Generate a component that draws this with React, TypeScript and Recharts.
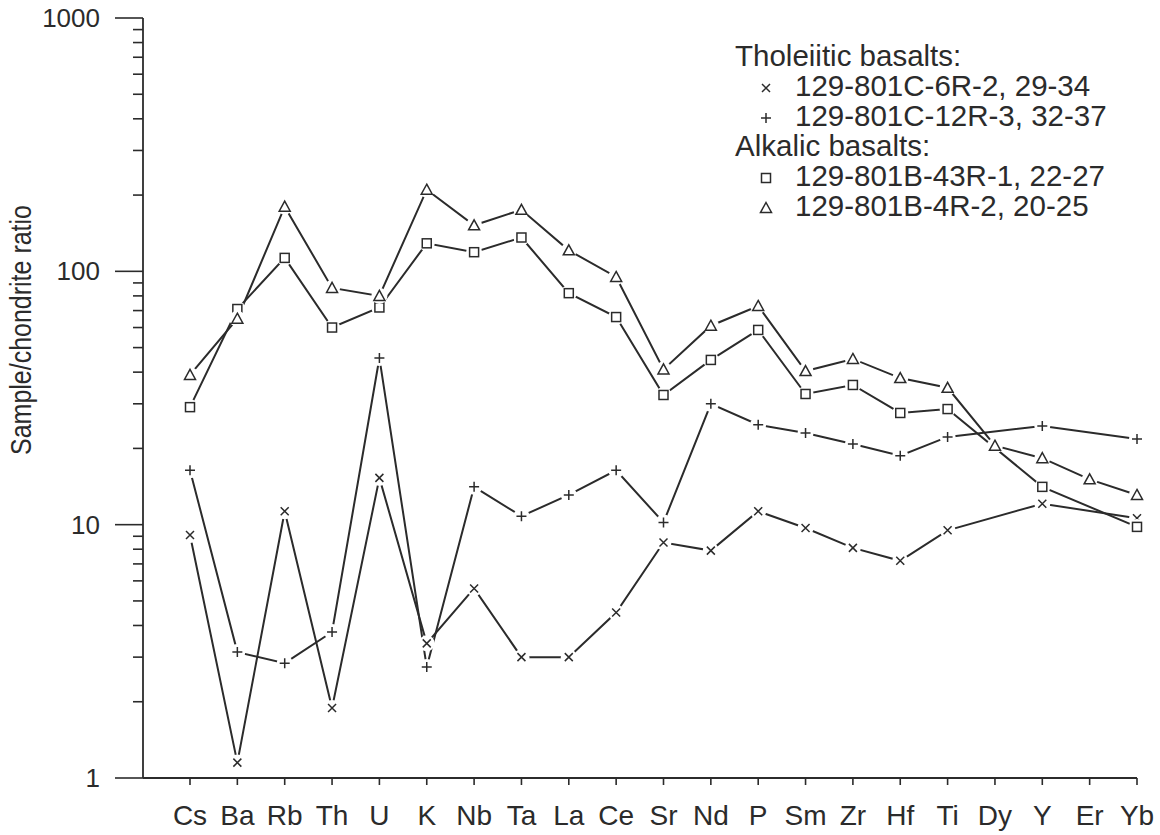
import React from "react";
import { LineChart, Line, XAxis, YAxis } from "recharts";

const INK = "#2b2b2b";
const FONT = '"Liberation Sans", Arial, Helvetica, sans-serif';

// elements normalised to chondrite
const elements = ["Cs", "Ba", "Rb", "Th", "U", "K", "Nb", "Ta", "La", "Ce", "Sr", "Nd", "P", "Sm", "Zr", "Hf", "Ti", "Dy", "Y", "Er", "Yb"];

// tholeiitic basalts
const thol6R2 = [9.1, 1.15, 11.3, 1.89, 15.3, 3.4, 5.6, 3.0, 3.0, 4.5, 8.5, 7.9, 11.3, 9.7, 8.1, 7.2, 9.5, null, 12.1, null, 10.6];
const thol12R3 = [16.4, 3.14, 2.84, 3.77, 45.5, 2.74, 14.1, 10.8, 13.1, 16.4, 10.2, 30.0, 24.8, 23.0, 20.8, 18.7, 22.2, null, 24.5, null, 21.8];
// alkalic basalts
const alk43R1 = [29.1, 71, 113, 60, 72, 129, 119, 136, 82, 66, 32.5, 44.7, 58.7, 32.8, 35.6, 27.6, 28.6, null, 14.1, null, 9.8];
const alk4R2 = [39, 65, 180, 86, 80, 210, 152, 175, 121, 95, 41, 61, 73, 40.4, 45.1, 37.9, 34.7, 20.5, 18.3, 15.1, 13.1];

const majorTicks = [1, 10, 100, 1000];
const minorTicks = [2, 3, 4, 5, 6, 7, 8, 9, 20, 30, 40, 50, 60, 70, 80, 90, 200, 300, 400, 500, 600, 700, 800, 900];

const data = elements.map((el, i) => ({
  el,
  t6: thol6R2[i],
  t12: thol12R3[i],
  a43: alk43R1[i],
  a4: alk4R2[i],
}));

type Kind = "x" | "plus" | "square" | "tri";

function Symbol({ kind, cx, cy, bg = true }: { kind: Kind; cx: number; cy: number; bg?: boolean }) {
  const sw = 1.5;
  let shape: React.ReactNode = null;
  if (kind === "x") {
    const s = 4;
    shape = <path d={`M${cx - s},${cy - s}L${cx + s},${cy + s}M${cx - s},${cy + s}L${cx + s},${cy - s}`} stroke={INK} strokeWidth={sw} fill="none" />;
  } else if (kind === "plus") {
    const s = 5;
    shape = <path d={`M${cx - s},${cy}L${cx + s},${cy}M${cx},${cy - s}L${cx},${cy + s}`} stroke={INK} strokeWidth={sw} fill="none" />;
  } else if (kind === "square") {
    shape = <rect x={cx - 4.5} y={cy - 4.5} width={9} height={9} stroke={INK} strokeWidth={sw} fill="#fff" />;
  } else {
    shape = <path d={`M${cx},${cy - 5.5}L${cx + 5.5},${cy + 4.5}L${cx - 5.5},${cy + 4.5}Z`} stroke={INK} strokeWidth={sw} fill="#fff" />;
  }
  return (
    <g>
      {bg && <circle cx={cx} cy={cy} r={8} fill="#fff" />}
      {shape}
    </g>
  );
}

const dotFor = (kind: Kind) => (p: any) => {
  const k = `${kind}-${p.index}`;
  if (p.value == null || p.cy == null || p.cx == null) return <g key={k} />;
  return (
    <g key={k}>
      <Symbol kind={kind} cx={p.cx} cy={p.cy} />
    </g>
  );
};

function YTick(props: any) {
  const { x, y, payload } = props;
  const v = payload.value;
  const major = majorTicks.includes(v);
  return (
    <g>
      <line x1={x - (major ? 28 : 10)} x2={x} y1={y} y2={y} stroke={INK} strokeWidth={1.6} />
      {major && (
        <text x={x - 43} y={y} textAnchor="end" dominantBaseline="central" fontSize={26} fill={INK} fontFamily={FONT}>
          {v}
        </text>
      )}
    </g>
  );
}

function YLabel() {
  return (
    <text
      x={31}
      y={330}
      transform="rotate(-90 31 330)"
      textAnchor="middle"
      fontSize={29}
      textLength={250}
      lengthAdjust="spacingAndGlyphs"
      fill={INK}
      fontFamily={FONT}
    >
      Sample/chondrite ratio
    </text>
  );
}

const legendRows: { kind?: Kind; text: string }[] = [
  { text: "Tholeiitic basalts:" },
  { kind: "x", text: "129-801C-6R-2, 29-34" },
  { kind: "plus", text: "129-801C-12R-3, 32-37" },
  { text: "Alkalic basalts:" },
  { kind: "square", text: "129-801B-43R-1, 22-27" },
  { kind: "tri", text: "129-801B-4R-2, 20-25" },
];

function LegendBox() {
  return (
    <svg width={1160} height={835} style={{ position: "absolute", left: 0, top: 0, pointerEvents: "none" }}>
      {legendRows.map((r, i) => {
        const base = 66 + i * 30;
        return (
          <g key={i}>
            {r.kind && <Symbol kind={r.kind} cx={766} cy={base - 8} bg={false} />}
            <text x={r.kind ? 795 : 735} y={base} fontSize={29.5} fill={INK} fontFamily={FONT}>
              {r.text}
            </text>
          </g>
        );
      })}
    </svg>
  );
}

export default function App() {
  const lineProps = {
    type: "linear" as const,
    stroke: INK,
    strokeWidth: 2,
    isAnimationActive: false,
    connectNulls: true,
    activeDot: false as const,
  };
  return (
    <div style={{ position: "absolute", left: 0, top: 0, width: 1160, height: 835, background: "#fff" }}>
      <LineChart width={1160} height={835} data={data} margin={{ top: 18, right: 23, bottom: 0, left: 0 }}>
        <XAxis
          dataKey="el"
          type="category"
          padding={{ left: 47, right: 0 }}
          height={57}
          tickSize={7}
          tickMargin={20}
          interval={0}
          axisLine={{ stroke: INK, strokeWidth: 1.8 }}
          tickLine={{ stroke: INK, strokeWidth: 1.6 }}
          tick={{ fontSize: 28, fill: INK, fontFamily: FONT }}
        />
        <YAxis
          type="number"
          scale="log"
          domain={[1, 1000]}
          allowDataOverflow
          ticks={[...majorTicks, ...minorTicks]}
          interval={0}
          width={143}
          tickSize={0}
          tickMargin={0}
          tickLine={false}
          axisLine={{ stroke: INK, strokeWidth: 1.8 }}
          tick={<YTick />}
          label={<YLabel />}
        />
        <Line dataKey="t6" {...lineProps} dot={dotFor("x")} />
        <Line dataKey="t12" {...lineProps} dot={dotFor("plus")} />
        <Line dataKey="a43" {...lineProps} dot={dotFor("square")} />
        <Line dataKey="a4" {...lineProps} dot={dotFor("tri")} />
      </LineChart>
      <LegendBox />
    </div>
  );
}
